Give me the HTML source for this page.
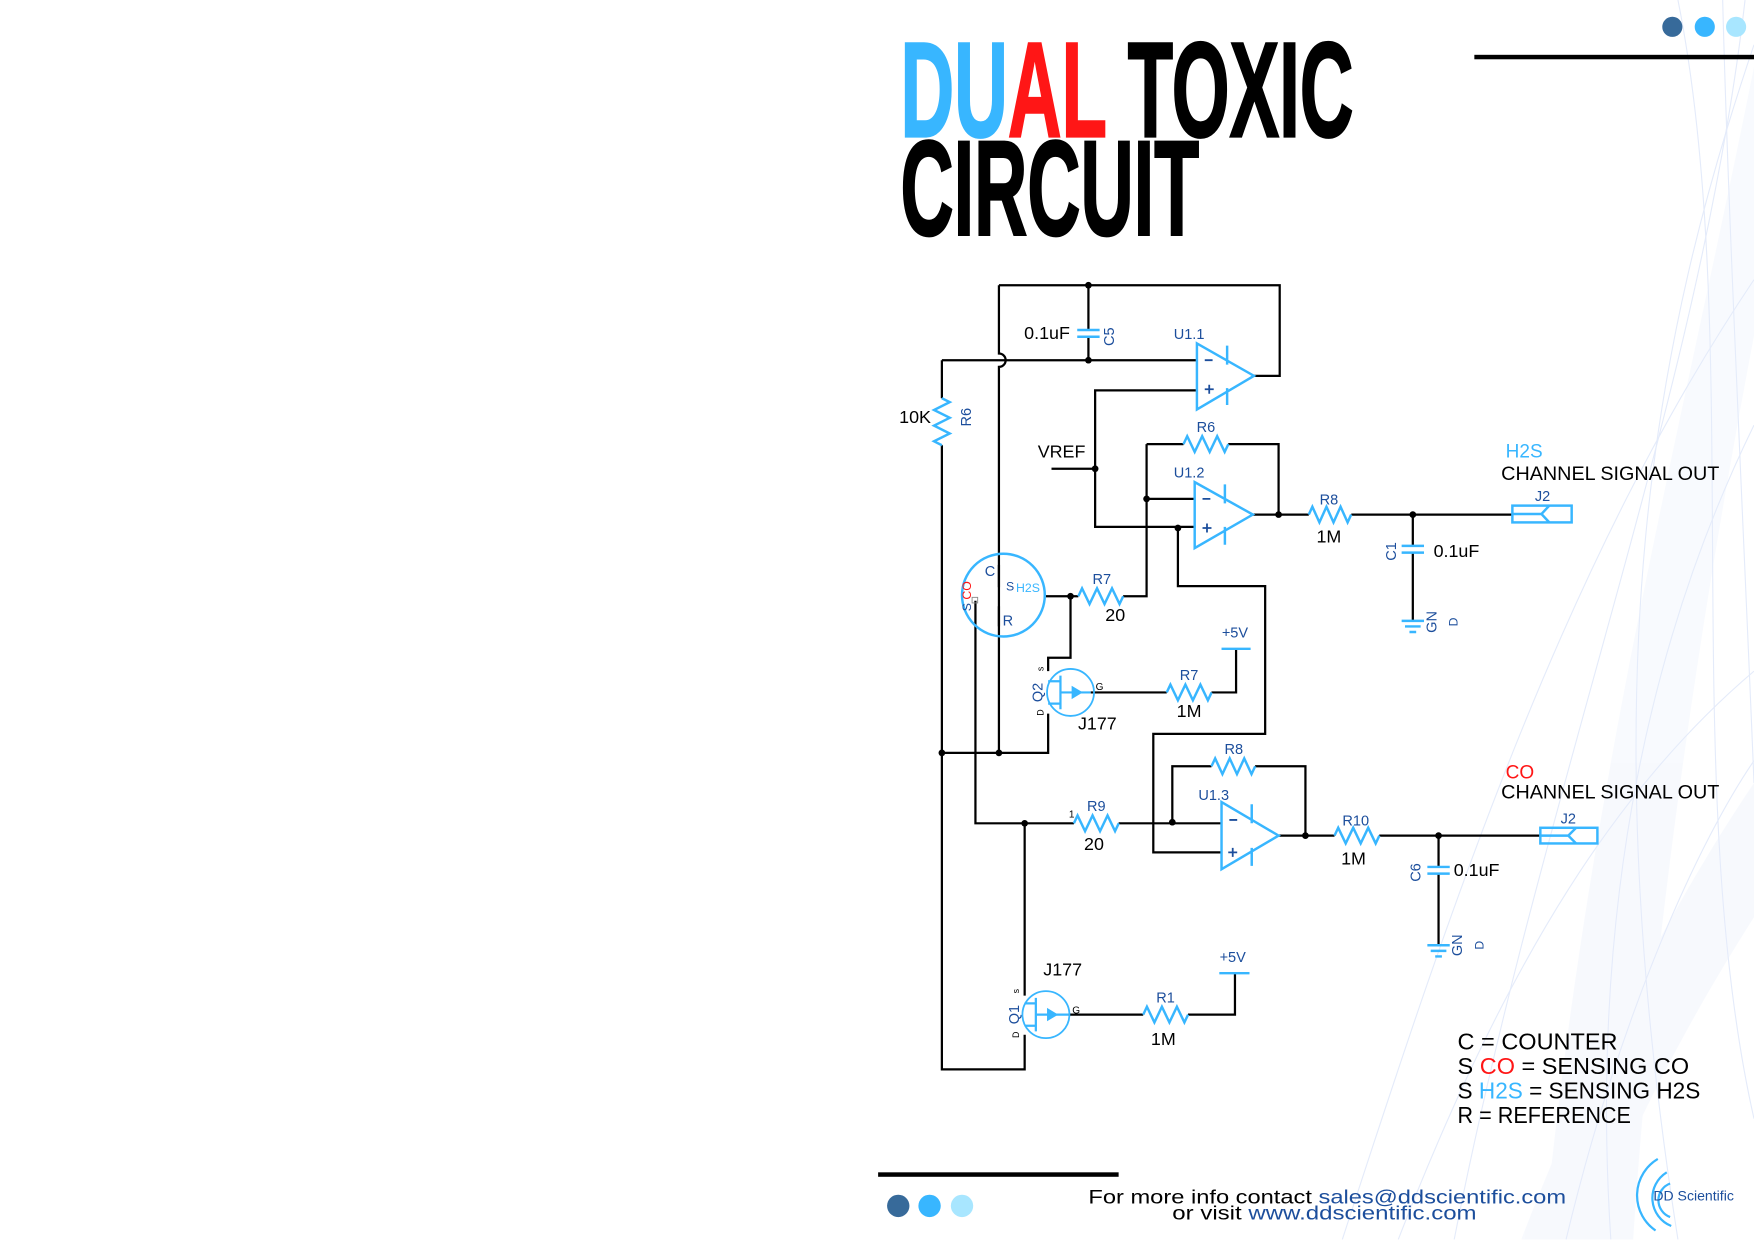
<!DOCTYPE html>
<html><head><meta charset="utf-8"><style>
html,body{margin:0;padding:0;background:#fff;}
svg{display:block;}
text{font-family:"Liberation Sans",sans-serif;}
</style></head><body>
<svg width="1754" height="1240" viewBox="0 0 1568 1108.5" preserveAspectRatio="none" xmlns="http://www.w3.org/2000/svg">
<rect width="1568" height="1108.5" fill="#fff"/>
<!-- background waves -->
<g fill="none" stroke="#d3def7" stroke-width="1" opacity="0.6">
<path d="M1568 40 C1480 300 1420 600 1500 1108"/>
<path d="M1560 0 C1520 350 1380 700 1300 1108"/>
<path d="M1568 250 C1400 500 1300 800 1200 1108"/>
<path d="M1500 0 C1560 300 1500 700 1568 1000"/>
<path d="M1568 600 C1450 700 1350 850 1250 1108"/>
<path d="M1568 380 C1480 560 1420 800 1440 1108"/>
<path d="M1540 0 C1545 200 1560 500 1568 700"/>
<path d="M1400 1108 C1450 900 1520 750 1568 680"/>
</g>
<g fill="#e8eefb" opacity="0.3">
<path d="M1568 60 C1500 400 1420 700 1380 1108 L1460 1108 C1480 800 1530 500 1568 300 Z"/>
<path d="M1568 700 C1500 800 1420 950 1360 1108 L1420 1108 C1470 980 1530 880 1568 820 Z"/>
</g>

<!-- title -->
<text x="805" y="122" font-size="121" font-weight="bold" textLength="405" lengthAdjust="spacingAndGlyphs" stroke-width="2"><tspan fill="#38b6ff" stroke="#38b6ff">DU</tspan><tspan fill="#ff1616" stroke="#ff1616">AL</tspan><tspan fill="#000" stroke="#000"> TOXIC</tspan></text>
<text x="805" y="210" font-size="121" font-weight="bold" textLength="267" lengthAdjust="spacingAndGlyphs" fill="#000" stroke="#000" stroke-width="2">CIRCUIT</text>

<!-- top right decor -->
<circle cx="1495" cy="24" r="9" fill="#376a9a"/>
<circle cx="1524" cy="24" r="9" fill="#38b6ff"/>
<circle cx="1552" cy="24" r="9" fill="#a8e6ff"/>
<rect x="1318" y="49" width="250" height="4" fill="#000"/>

<!-- wires -->
<g fill="none" stroke="#000" stroke-width="2">
<path d="M893 255 H1144 V336 H1121"/>
<path d="M893 255 V316 A6 6 0 0 1 893 328 V673"/>
<path d="M973 255 V295 M973 301 V322"/>
<path d="M842 322 H1070"/>
<path d="M842 322 V356 M842 398 V956 H916 V925"/>
<path d="M1070 349 H979 V471 H1068"/>
<path d="M940 419 H979"/>
<path d="M1025 397 H1058 M1098 397 H1143 V460"/>
<path d="M1025 397 V533 H1004 M1025 446 H1068"/>
<path d="M1120 460 H1170 M1208 460 H1352"/>
<path d="M1263 460 V488 M1263 494 V555"/>
<path d="M1053 472 V524 H1131 V656 H1031 V762 H1092"/>
<path d="M935 533 H964"/>
<path d="M957 533 V588 H937 V600"/>
<path d="M937 638 V673 H842"/>
<path d="M975 619 H1043 M1083 619 H1105 V580"/>
<path d="M872 537 V736 H960 M1000 736 H1092"/>
<path d="M1048 735 V685 H1083 M1122 685 H1167 V747"/>
<path d="M1143 747 H1193 M1233 747 H1377"/>
<path d="M1286 747 V775 M1286 781 V845"/>
<path d="M916 736 V890"/>
<path d="M955 907 H1022 M1062 907 H1104 V870"/>
<path d="M893 505 V525 M893 542 V560"/>
</g>
<g fill="#000">
<circle cx="973" cy="255" r="3"/><circle cx="973" cy="322" r="3"/>
<circle cx="979" cy="419" r="3"/><circle cx="1025" cy="446" r="3"/>
<circle cx="1143" cy="460" r="3"/><circle cx="1263" cy="460" r="3"/>
<circle cx="1053" cy="472" r="3"/><circle cx="957" cy="533" r="3"/>
<circle cx="842" cy="673" r="3"/><circle cx="893" cy="673" r="3"/>
<circle cx="1048" cy="735" r="3"/><circle cx="1167" cy="747" r="3"/>
<circle cx="1286" cy="747" r="3"/><circle cx="916" cy="736" r="3"/>
</g>

<!-- components (blue) -->
<g fill="none" stroke="#38b6ff" stroke-width="2.2">
<path d="M1058 397 l3.3 -7 l6.7 14 l6.7 -14 l6.7 14 l6.7 -14 l6.7 14 l3.3 -7"/>
<path d="M1170 460 l3.2 -7 l6.3 14 l6.3 -14 l6.3 14 l6.3 -14 l6.3 14 l3.2 -7"/>
<path d="M964 533 l3.3 -7 l6.7 14 l6.7 -14 l6.7 14 l6.7 -14 l6.7 14 l3.3 -7"/>
<path d="M1043 619 l3.3 -7 l6.7 14 l6.7 -14 l6.7 14 l6.7 -14 l6.7 14 l3.3 -7"/>
<path d="M1083 685 l3.3 -7 l6.5 14 l6.5 -14 l6.5 14 l6.5 -14 l6.5 14 l3.3 -7"/>
<path d="M960 736 l3.3 -7 l6.7 14 l6.7 -14 l6.7 14 l6.7 -14 l6.7 14 l3.3 -7"/>
<path d="M1193 747 l3.3 -7 l6.7 14 l6.7 -14 l6.7 14 l6.7 -14 l6.7 14 l3.3 -7"/>
<path d="M1022 907 l3.3 -7 l6.7 14 l6.7 -14 l6.7 14 l6.7 -14 l6.7 14 l3.3 -7"/>
<path d="M842 356 l7 3.5 l-14 7 l14 7 l-14 7 l14 7 l-14 7 l7 3.5"/>
<path d="M963 295 H983 M963 301 H983"/>
<path d="M1253 488 H1273 M1253 494 H1273"/>
<path d="M1276 775 H1296 M1276 781 H1296"/>
<path d="M1070 307 L1121 336 L1070 366 Z M1097 309 V326 M1097 347 V362"/>
<path d="M1068 431 L1120 460 L1068 490 Z M1095 433 V450 M1095 471 V487"/>
<path d="M1092 717 L1143 747 L1092 777 Z M1119 719 V736 M1119 758 V774"/>
<circle cx="897" cy="532" r="37"/>
<path d="M1092 580 H1118 M1090 870 H1117"/>
<path d="M1253 555 H1273 M1256 560 H1270 M1260 565 H1266"/>
<path d="M1276 845 H1296 M1279 850 H1293 M1283 855 H1289"/>
<rect x="1352" y="452" width="53" height="15"/>
<path d="M1352 459.5 H1378 M1385 452 L1378 459.5 L1385 467"/>
<rect x="1377" y="740" width="51" height="14"/>
<path d="M1377 747 H1402 M1409 740 L1402 747 L1409 754"/>
<circle cx="957" cy="619" r="21" stroke-width="1.6"/>
<path d="M948 604 V634 M937 609 H948 M937 629 H948 M948 619 H975" stroke-width="2"/>
<circle cx="935" cy="907" r="21" stroke-width="1.6"/>
<path d="M926 892 V922 M916 897 H926 M916 917 H926 M926 907 H955" stroke-width="2"/>
</g>
<!-- opamp signs -->
<g stroke="#1c4e9c" stroke-width="1.6" fill="none">
<path d="M1077 322 H1084 M1077 348 H1085 M1081 344 V352"/>
<path d="M1075 446 H1082 M1075 472 H1083 M1079 468 V476"/>
<path d="M1099 733 H1106 M1098 762 H1106 M1102 758 V766"/>
</g>
<path d="M958 613 L968 619 L958 625 Z" fill="#38b6ff"/>
<path d="M936 901 L946 907 L936 913 Z" fill="#38b6ff"/>
<rect x="869" y="534" width="5" height="5" fill="none" stroke="#888" stroke-width="0.8"/>

<!-- labels dark blue -->
<g fill="#1c4e9c" font-size="13" text-anchor="middle">
<text x="1063" y="303">U1.1</text>
<text x="1063" y="427">U1.2</text>
<text x="1085" y="715">U1.3</text>
<text x="1078" y="386">R6</text>
<text x="1188" y="451">R8</text>
<text x="985" y="522">R7</text>
<text x="1063" y="608">R7</text>
<text x="1103" y="674">R8</text>
<text x="980" y="725">R9</text>
<text x="1212" y="738">R10</text>
<text x="1042" y="896">R1</text>
<text x="1379" y="448">J2</text>
<text x="1402" y="736">J2</text>
<text x="1104" y="570">+5V</text>
<text x="1102" y="860">+5V</text>
<text x="885" y="515">C</text>
<text x="901" y="559">R</text>
<text x="903" y="528" font-size="11">S</text>
<text x="983" y="617" font-size="9" fill="#000">G</text>
<text x="962" y="906" font-size="9" fill="#000">G</text>
<text x="958" y="731" font-size="9" fill="#000">1</text>
</g>
<text x="919" y="529" font-size="11" fill="#38b6ff" text-anchor="middle">H2S</text>
<g font-size="13" fill="#1c4e9c" text-anchor="middle">
<text transform="translate(868,373) rotate(-90)">R6</text>
<text transform="translate(996,301) rotate(-90)">C5</text>
<text transform="translate(1248,493) rotate(-90)">C1</text>
<text transform="translate(1270,780) rotate(-90)">C6</text>
<text transform="translate(932,619) rotate(-90)">Q2</text>
<text transform="translate(911,907) rotate(-90)">Q1</text>
<text transform="translate(1284,556) rotate(-90)">GN</text>
<text transform="translate(1303,556) rotate(-90)" font-size="11">D</text>
<text transform="translate(1307,845) rotate(-90)">GN</text>
<text transform="translate(1326,845) rotate(-90)" font-size="11">D</text>
<text transform="translate(933,598) rotate(-90)" font-size="8" fill="#000">s</text>
<text transform="translate(933,637) rotate(-90)" font-size="8" fill="#000">D</text>
<text transform="translate(911,886) rotate(-90)" font-size="8" fill="#000">s</text>
<text transform="translate(911,925) rotate(-90)" font-size="8" fill="#000">D</text>
<text transform="translate(868,533) rotate(-90)" font-size="11"><tspan fill="#1c4e9c">S </tspan><tspan fill="#ff1616">CO</tspan></text>
</g>

<g fill="#000" font-size="16" text-anchor="middle">
<text x="936" y="303">0.1uF</text>
<text x="818" y="378">10K</text>
<text x="949" y="409">VREF</text>
<text x="1188" y="485">1M</text>
<text x="1302" y="498">0.1uF</text>
<text x="997" y="555">20</text>
<text x="1063" y="641">1M</text>
<text x="981" y="652">J177</text>
<text x="978" y="760">20</text>
<text x="1210" y="773">1M</text>
<text x="1320" y="783">0.1uF</text>
<text x="950" y="872">J177</text>
<text x="1040" y="934">1M</text>
</g>

<text x="1346" y="409" font-size="17" fill="#38b6ff">H2S</text>
<text x="1342" y="429" font-size="17" fill="#000" textLength="195" lengthAdjust="spacingAndGlyphs">CHANNEL SIGNAL OUT</text>
<text x="1346" y="696" font-size="17" fill="#ff1616">CO</text>
<text x="1342" y="714" font-size="17" fill="#000" textLength="195" lengthAdjust="spacingAndGlyphs">CHANNEL SIGNAL OUT</text>

<g font-size="21" fill="#000">
<text x="1303" y="938" textLength="143" lengthAdjust="spacingAndGlyphs">C = COUNTER</text>
<text x="1303" y="960" textLength="207" lengthAdjust="spacingAndGlyphs">S <tspan fill="#ff1616">CO</tspan> = SENSING CO</text>
<text x="1303" y="982" textLength="217" lengthAdjust="spacingAndGlyphs">S <tspan fill="#38b6ff">H2S</tspan> = SENSING H2S</text>
<text x="1303" y="1004" textLength="155" lengthAdjust="spacingAndGlyphs">R = REFERENCE</text>
</g>

<rect x="785" y="1048" width="215" height="4" fill="#000"/>
<circle cx="803" cy="1078" r="10" fill="#376a9a"/>
<circle cx="831" cy="1078" r="10" fill="#38b6ff"/>
<circle cx="860" cy="1078" r="10" fill="#a8e6ff"/>
<text x="973" y="1076" font-size="17" fill="#000" textLength="427" lengthAdjust="spacingAndGlyphs">For more info contact <tspan fill="#1c4e9c">sales@ddscientific.com</tspan></text>
<text x="1048" y="1090" font-size="17" fill="#000" textLength="272" lengthAdjust="spacingAndGlyphs">or visit <tspan fill="#1c4e9c">www.ddscientific.com</tspan></text>
<g fill="none" stroke="#38b6ff" stroke-width="2">
<path d="M1482 1036 A38 38 0 0 0 1480 1100"/>
<path d="M1490 1048 A27 27 0 0 0 1494 1096"/>
<path d="M1493 1058 A16 16 0 0 0 1493 1088"/>
</g>
<text x="1478" y="1073" font-size="12" fill="#1c4e9c" textLength="72" lengthAdjust="spacingAndGlyphs">DD Scientific</text>
</svg>
</body></html>
